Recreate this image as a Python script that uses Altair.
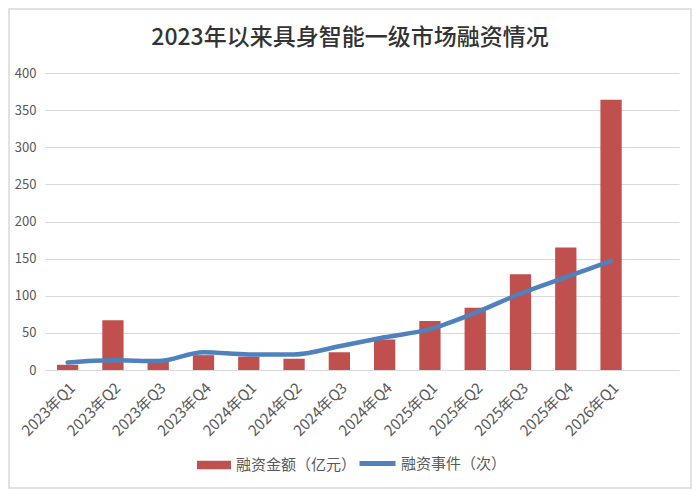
import altair as alt
import pandas as pd

categories = ["2023年Q1", "2023年Q2", "2023年Q3", "2023年Q4",
              "2024年Q1", "2024年Q2", "2024年Q3", "2024年Q4",
              "2025年Q1", "2025年Q2", "2025年Q3", "2025年Q4", "2026年Q1"]
amount = [7, 67, 11, 20, 18, 15, 24, 41, 66, 84, 129, 165, 364]
events = [10, 13, 12, 24, 21, 21, 32, 44, 55, 77, 103, 125, 147]
y_ticks = [0, 50, 100, 150, 200, 250, 300, 350, 400]

S_AMOUNT = "融资金额（亿元）"
S_EVENTS = "融资事件（次）"
TITLE = "2023年以来具身智能一级市场融资情况"

RED = "#C0504D"
BLUE = "#4F81BD"
GRAY_TXT = "#595959"
GRID = "#D9D9D9"
FONT = "Noto Sans CJK SC"

W, H = 634, 297
PAD = {"left": 37, "top": 65, "right": 13, "bottom": 122}

df = pd.DataFrame({"cat": categories, "amount": amount, "events": events,
                   "s1": S_AMOUNT, "s2": S_EVENTS})

xscale = alt.Scale(domain=categories, paddingInner=0, paddingOuter=0.5, align=0)
xaxis = alt.Axis(title=None, labelAngle=-45, labelAlign="right", labelBaseline="middle",
                 labelFontSize=15, labelColor=GRAY_TXT, labelFont=FONT, labelPadding=15,
                 domain=False, ticks=False, grid=False, labelOffset=5)
yscale = alt.Scale(domain=[0, 400], nice=False)
yaxis = alt.Axis(title=None, values=y_ticks, labelFontSize=13, labelColor=GRAY_TXT,
                 labelFont=FONT, labelPadding=9, domain=False, ticks=False,
                 grid=True, gridColor=GRID, gridWidth=1, labelOverlap=False)

base = alt.Chart(df)

bars = base.mark_bar(width=alt.RelativeBandSize(0.47)).encode(
    x=alt.X("cat:N", scale=xscale, axis=xaxis, sort=categories),
    y=alt.Y("amount:Q", scale=yscale, axis=yaxis),
    fill=alt.Fill("s1:N", scale=alt.Scale(domain=[S_AMOUNT], range=[RED]),
                  legend=alt.Legend(title=None, orient="none", legendX=152, legendY=375,
                                    symbolType="M-1,-0.25H1V0.25H-1Z", symbolSize=1156,
                                    symbolStrokeWidth=0, labelFontSize=15,
                                    labelColor=GRAY_TXT, labelFont=FONT, labelOffset=5,
                                    padding=0)),
)

line = base.mark_line(interpolate="monotone", strokeWidth=4.5, strokeCap="round",
                      strokeJoin="round").encode(
    x=alt.X("cat:N", scale=xscale, axis=xaxis, sort=categories),
    y=alt.Y("events:Q", scale=yscale, axis=yaxis),
    stroke=alt.Stroke("s2:N", scale=alt.Scale(domain=[S_EVENTS], range=[BLUE]),
                      legend=alt.Legend(title=None, orient="none", legendX=312, legendY=370,
                                        symbolType="stroke", symbolSize=1296,
                                        symbolStrokeWidth=5, labelFontSize=15,
                                        labelColor=GRAY_TXT, labelFont=FONT, labelOffset=3,
                                        padding=0)),
)

border = alt.Chart(pd.DataFrame({"a": [0]})).mark_rect(
    fill=None, stroke="#D9D9D9", strokeWidth=1.5, clip=False
).encode(
    x=alt.value(-PAD["left"] + 1), x2=alt.value(W + PAD["right"] - 1),
    y=alt.value(-PAD["top"] + 1), y2=alt.value(H + PAD["bottom"] - 4),
)

chart = alt.layer(border, bars, line).resolve_scale(fill="independent", stroke="independent").properties(
    width=W, height=H,
    autosize=alt.AutoSizeParams(type="none"),
    padding=PAD,
    title=alt.TitleParams(TITLE, fontSize=23, fontWeight=500, font=FONT, color="#333333",
                          anchor="middle", frame="group", dx=-12, offset=-42),
).configure_view(stroke=None)

chart.save("out.html", embed_options={"renderer": "svg", "actions": False})
